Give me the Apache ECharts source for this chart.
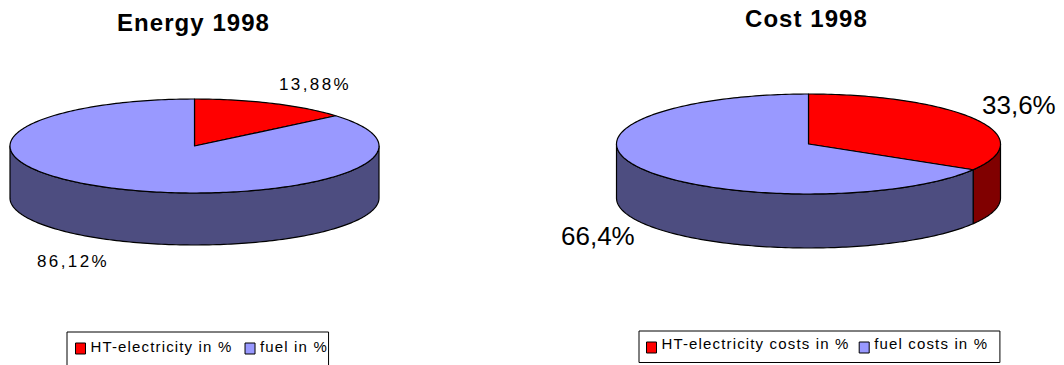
<!DOCTYPE html>
<html>
<head>
<meta charset="utf-8">
<style>
  html, body { margin: 0; padding: 0; background: #fff; }
  #chart { width: 1064px; height: 365px; overflow: hidden; }
  /* Tracking per text size; ECharts text styles have no letter spacing option */
  #chart text[style*="15px"] { letter-spacing: 1.15px; }
  #chart text[style*="17px"] { letter-spacing: 2.4px; }
  #chart text[style*="24px"] { letter-spacing: 1.05px; }
</style>
<script src="https://cdn.jsdelivr.net/npm/echarts@6/dist/echarts.min.js"></script>
</head>
<body>
<div id="chart"></div>
<script>
const FONT = '"Liberation Sans", Arial, sans-serif';

// Shares in percent
const energyNames = ['HT-electricity in %', 'fuel in %'];
const energyValues = [13.88, 86.12];
const energyLabels = ['13,88%', '86,12%'];

const costNames = ['HT-electricity costs in %', 'fuel costs in %'];
const costValues = [33.6, 66.4];
const costLabels = ['33,6%', '66,4%'];

const topColors = ['#ff0000', '#9999ff'];
const wallColors = ['#800000', '#4d4d80'];

// Disc geometry of each pie and where its value labels sit
const energyDisc = { cx: 194.5, cy: 146, rx: 184.5, ry: 47, depth: 52, fontSize: 17,
  labelPos: [[279, 84], [37, 261]] };
const costDisc = { cx: 808.5, cy: 144, rx: 192, ry: 50, depth: 54, fontSize: 26,
  labelPos: [[982, 105], [561, 236]] };

// Point on the rim; the angle runs clockwise from twelve o'clock
function rim(disc, angle, drop) {
  return [disc.cx + disc.rx * Math.sin(angle), disc.cy - disc.ry * Math.cos(angle) + drop];
}

function arcPoints(disc, from, to, drop) {
  const steps = Math.max(2, Math.ceil((to - from) / 0.02));
  const pts = [];
  for (let i = 0; i <= steps; i++) pts.push(rim(disc, from + (to - from) * i / steps, drop));
  return pts;
}

// One slice: the visible part of its wall, its top face and its value label
function sliceRenderer(disc, values, labels, index) {
  const total = values.reduce((a, b) => a + b, 0);
  const before = values.slice(0, index).reduce((a, b) => a + b, 0);
  return function (params, api) {
    const from = before / total * 2 * Math.PI;
    const to = from + api.value(0) / total * 2 * Math.PI;
    const children = [];
    const outline = { stroke: '#000', lineWidth: 1.2, lineJoin: 'round' };

    const wallFrom = Math.max(from, Math.PI / 2);
    const wallTo = Math.min(to, Math.PI * 1.5);
    if (wallTo > wallFrom) {
      const upper = arcPoints(disc, wallFrom, wallTo, 0);
      const lower = arcPoints(disc, wallFrom, wallTo, disc.depth).reverse();
      children.push({
        type: 'polygon',
        shape: { points: upper.concat(lower) },
        style: Object.assign({ fill: wallColors[index] }, outline)
      });
    }
    children.push({
      type: 'polygon',
      shape: { points: [[disc.cx, disc.cy]].concat(arcPoints(disc, from, to, 0)) },
      style: Object.assign({ fill: topColors[index] }, outline)
    });
    children.push({
      type: 'text',
      x: disc.labelPos[index][0],
      y: disc.labelPos[index][1],
      style: {
        text: labels[index], fill: '#000', fontFamily: FONT, fontSize: disc.fontSize,
        align: 'left', verticalAlign: 'middle'
      }
    });
    return { type: 'group', children };
  };
}

function pieSeries(names, values, labels, disc) {
  return names.map((name, i) => ({
    type: 'custom',
    name,
    coordinateSystem: 'none',
    silent: true,
    animation: false,
    itemStyle: { color: topColors[i] },
    data: [[values[i]]],
    renderItem: sliceRenderer(disc, values, labels, i)
  }));
}

function titleOf(text, left, top) {
  return {
    text, left, top,
    padding: 0,
    textStyle: { fontFamily: FONT, fontSize: 24, fontWeight: 'bold', color: '#000' }
  };
}

function legendOf(names, left, top, padding, itemGap, textLift) {
  return {
    data: names, left, top, padding, itemGap,
    orient: 'horizontal',
    icon: 'rect',
    itemWidth: 10,
    itemHeight: 11,
    selectedMode: false,
    borderColor: '#000',
    borderWidth: 1,
    backgroundColor: '#fff',
    itemStyle: { borderColor: '#000', borderWidth: 1 },
    formatter: '{t|{name}}',
    textStyle: {
      rich: { t: { fontFamily: FONT, fontSize: 15, color: '#000', padding: [0, 0, textLift, 0] } }
    }
  };
}

const chart = echarts.init(document.getElementById('chart'), null, { renderer: 'svg' });
chart.setOption({
  backgroundColor: '#fff',
  animation: false,
  tooltip: { show: false },
  title: [titleOf('Energy 1998', 117, 10), titleOf('Cost 1998', 745, 6)],
  legend: [
    legendOf(energyNames, 67, 332, [7, 11, 30, 8], 34, 4),
    legendOf(costNames, 639, 331, [5, 29, 9, 7], 38, 8)
  ],
  series: pieSeries(energyNames, energyValues, energyLabels, energyDisc)
    .concat(pieSeries(costNames, costValues, costLabels, costDisc))
});
</script>
</body>
</html>
